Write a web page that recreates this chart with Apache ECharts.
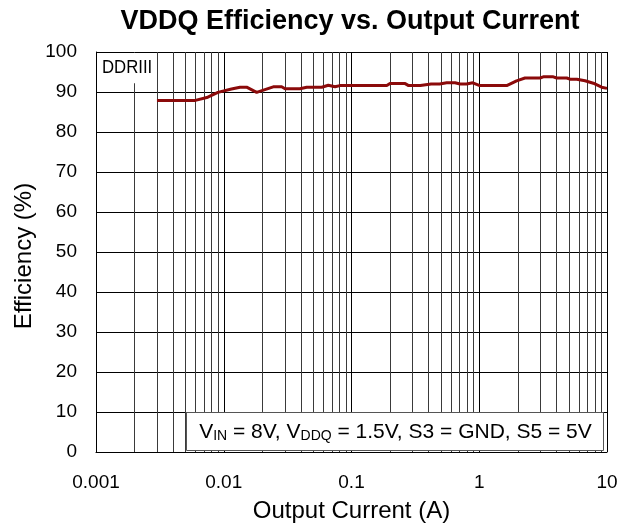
<!DOCTYPE html>
<html><head><meta charset="utf-8">
<script src="https://cdn.jsdelivr.net/npm/echarts@6/dist/echarts.min.js"></script>
<style>html,body{margin:0;padding:0;background:#fff}#c{width:637px;height:531px}</style>
</head><body><div id="c"></div>
<script>
// Output current (A)
var current = [0.003, 0.006, 0.0075, 0.009, 0.0115, 0.0134, 0.0151, 0.0181, 0.0244, 0.0284, 0.0302, 0.0395, 0.0446, 0.0585, 0.0658, 0.0743, 0.081, 0.189, 0.2, 0.263, 0.28, 0.346, 0.42, 0.49, 0.556, 0.646, 0.708, 0.795, 0.89, 1.01, 1.64, 1.96, 2.28, 2.99, 3.17, 3.8, 4.04, 4.84, 5.13, 5.8, 6.73, 7.81, 9.08, 10];
// Efficiency (%)
var efficiency = [87.9, 87.9, 88.7, 89.9, 90.75, 91.2, 91.2, 89.9, 91.3, 91.3, 90.8, 90.8, 91.2, 91.2, 91.7, 91.3, 91.6, 91.6, 92.1, 92.1, 91.6, 91.6, 92.0, 92.0, 92.3, 92.3, 92.0, 92.0, 92.3, 91.6, 91.6, 92.8, 93.5, 93.5, 93.8, 93.8, 93.5, 93.5, 93.2, 93.2, 92.8, 92.2, 91.2, 90.9];
var xTicks = [0.001, 0.01, 0.1, 1, 10];
var xMinor = [0.002,0.003,0.004,0.005,0.006,0.007,0.008,0.009,0.02,0.03,0.04,0.05,0.06,0.07,0.08,0.09,0.2,0.3,0.4,0.5,0.6,0.7,0.8,0.9,2,3,4,5,6,7,8,9];
var titleText = 'VDDQ Efficiency vs. Output Current';
var xName = 'Output Current (A)';
var yName = 'Efficiency (%)';
var boxLabel = 'DDRIII';

var font = 'Liberation Sans, Arial, sans-serif';
var chart = echarts.init(document.getElementById('c'), null, {renderer: 'canvas'});
var pts = current.map(function (c, i) { return [c, efficiency[i]]; });

chart.setOption({
  animation: false,
  backgroundColor: '#fff',
  grid: {left: 96, right: 30, top: 52, bottom: 79},
  xAxis: {
    type: 'log', logBase: 10, min: 0.001, max: 10,
    name: xName, nameLocation: 'middle', nameGap: 47,
    nameTextStyle: {fontFamily: font, fontSize: 24, color: '#000'},
    axisLine: {lineStyle: {color: '#000', width: 1}},
    axisTick: {show: false},
    axisLabel: {
      fontFamily: font, fontSize: 19, color: '#000', margin: 21,
      formatter: function (v) {
        var t = xTicks.filter(function (x) { return Math.abs(Math.log10(x) - Math.log10(v)) < 1e-6; });
        return t.length ? String(t[0]) : '';
      }
    },
    splitLine: {show: true, lineStyle: {color: '#000', width: 1}},
    minorTick: {show: false}, minorSplitLine: {show: false}
  },
  yAxis: {
    type: 'value', min: 0, max: 100, interval: 10,
    axisLine: {show: true, lineStyle: {color: '#000', width: 1}},
    axisTick: {show: false},
    axisLabel: {fontFamily: font, fontSize: 19, color: '#000', margin: 19},
    splitLine: {show: true, lineStyle: {color: '#000', width: 1}}
  },
  series: [
    {
      type: 'custom', silent: true, z: 1,
      data: xMinor.map(function (v) { return [v, 0]; }),
      encode: {x: 0, y: 1},
      renderItem: function (params, api) {
        var a = api.coord([api.value(0), 0]);
        var b = api.coord([api.value(0), 100]);
        var x = Math.round(a[0]) + 0.5;
        return {type: 'line', shape: {x1: x, y1: a[1], x2: x, y2: b[1]},
                style: {stroke: '#3a3a3a', lineWidth: 1}};
      }
    },
    {
      type: 'line', data: pts, showSymbol: false, symbol: 'none', z: 5,
      lineStyle: {color: '#8b0a0a', width: 3}
    }
  ]
});

function addLabels() {
  var tl = chart.convertToPixel({gridIndex: 0}, [0.001, 100]);
  var dbr = chart.convertToPixel({gridIndex: 0}, [0.00285, 92.2]);
  var p2 = chart.convertToPixel({gridIndex: 0}, [0.00506, 10]);
  var p3 = chart.convertToPixel({gridIndex: 0}, [9.3, 0.5]);
  chart.setOption({
    graphic: [
      {type: 'text', x: 350, y: 22, z: 100, scaleX: 1.0,
       style: {text: titleText, font: 'bold 27px ' + font, fill: '#000', textAlign: 'center', textVerticalAlign: 'middle'}},
      {type: 'text', rotation: Math.PI / 2, x: 24, y: 256, z: 100,
       style: {text: yName, font: '24px ' + font, fill: '#000', textAlign: 'center', textVerticalAlign: 'middle'}},
      {type: 'rect', z: 50, shape: {x: tl[0] + 1, y: tl[1] + 1, width: dbr[0] - tl[0] - 1, height: dbr[1] - tl[1] - 1},
       style: {fill: '#fff', stroke: null}},
      {type: 'text', x: tl[0] + 6, y: tl[1] + 16, z: 60, scaleX: 0.93,
       style: {text: boxLabel, font: '18px ' + font, fill: '#000', textVerticalAlign: 'middle', textAlign: 'left'}},
      {type: 'rect', z: 50, shape: {x: Math.round(p2[0]) + 0.5, y: Math.round(p2[1]) + 0.5, width: Math.round(p3[0] - p2[0]), height: Math.round(p3[1] - p2[1])},
       style: {fill: '#fff', stroke: '#555', lineWidth: 1}},
      {type: 'text', x: (p2[0] + p3[0]) / 2 + 1, y: (p2[1] + p3[1]) / 2 + 1, z: 60,
       style: {
         text: '{n|V}{s|IN}{n| = 8V, V}{s|DDQ}{n| = 1.5V, S3 = GND, S5 = 5V}',
         textAlign: 'center', textVerticalAlign: 'middle',
         rich: {
           n: {fontFamily: font, fontSize: 21, fill: '#000', verticalAlign: 'bottom', lineHeight: 22},
           s: {fontFamily: font, fontSize: 14, fill: '#000', verticalAlign: 'bottom', lineHeight: 17}
         }
       }}
    ]
  });
}
addLabels();
</script></body></html>
